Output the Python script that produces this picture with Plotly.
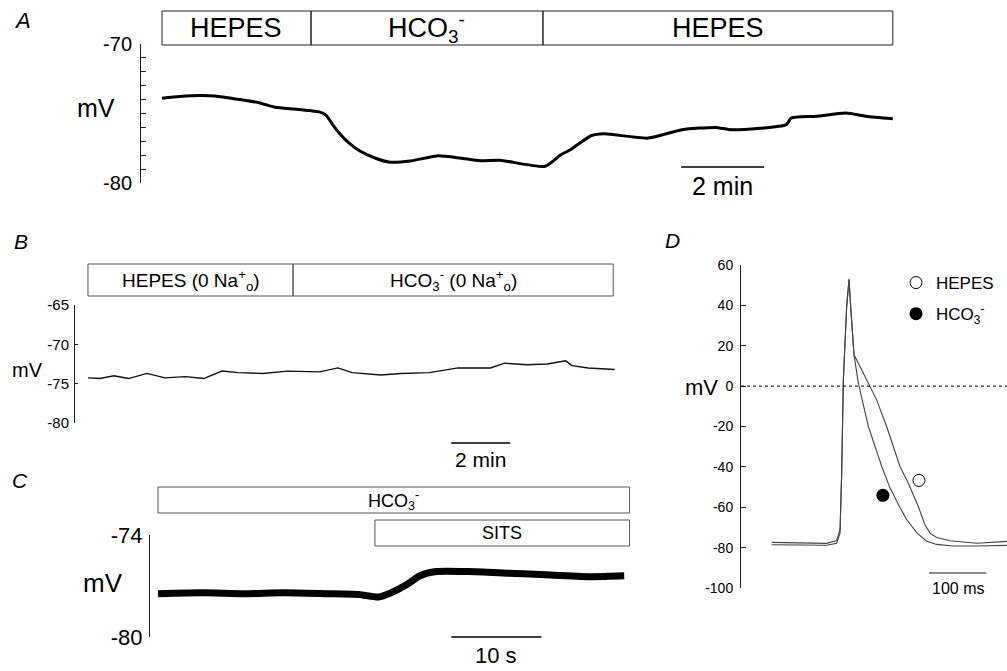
import plotly.graph_objects as go

W, H = 1007, 671
FONT = "Liberation Sans, Arial, Helvetica, sans-serif"


def px(x):
    return x / W


def py(y):
    return 1 - y / H


# ---------------- Panel A (time in min, membrane potential in mV) ----------------
a_t = [0, 0.43, 0.92, 1.28, 1.88, 2.36, 2.72, 3.2, 3.57, 3.81, 3.95, 4.12, 4.29, 4.53,
       4.77, 5.13, 5.49, 5.98, 6.63, 7.18, 7.66, 8.14, 9.23, 9.61, 9.83, 10.07, 10.34,
       10.65, 11.71, 12.53, 13.33, 13.74, 15.04, 15.16, 15.76, 16.48, 16.96, 17.61]
a_mv = [-73.9, -73.78, -73.71, -73.74, -74.0, -74.24, -74.55, -74.68, -74.79, -74.9,
        -75.11, -75.83, -76.47, -77.19, -77.7, -78.2, -78.5, -78.42, -78.05, -78.2,
        -78.4, -78.36, -78.8, -77.97, -77.63, -77.12, -76.6, -76.46, -76.77, -76.17,
        -76.0, -76.17, -75.8, -75.33, -75.2, -74.97, -75.2, -75.38]
a_edges = [0.0, 3.59, 9.18, 17.61]
a_labels = ["HEPES", "HCO<sub>3</sub><sup>-</sup>", "HEPES"]

# ---------------- Panel B ----------------
b_t = [0.0, 0.4, 0.88, 1.37, 2.0, 2.61, 3.3, 3.92, 4.54, 5.09, 5.92, 6.76, 7.85,
       8.47, 8.95, 9.92, 10.6, 11.57, 12.54, 13.64, 14.12, 14.88, 15.56, 16.19,
       16.4, 16.95, 17.85]
b_mv = [-74.26, -74.35, -74.0, -74.35, -73.7, -74.26, -74.1, -74.35, -73.4, -73.6,
        -73.7, -73.4, -73.5, -73.0, -73.6, -73.9, -73.7, -73.6, -73.0, -73.0, -72.4,
        -72.6, -72.5, -72.1, -72.7, -73.0, -73.2]
b_edges = [0.0, 6.95, 17.8]
b_labels = ["HEPES (0 Na<sup>+</sup><sub>o</sub>)",
            "HCO<sub>3</sub><sup>-</sup> (0 Na<sup>+</sup><sub>o</sub>)"]

# ---------------- Panel C (time in s) ----------------
c_t = [0, 5, 9.5, 14, 18.6, 22.3, 24.5, 25.9, 27.7, 29.1, 30.9, 34.5, 39, 43.6, 48.2, 51.8]
c_mv = [-77.45, -77.4, -77.45, -77.4, -77.45, -77.5, -77.65, -77.4, -76.9, -76.4,
        -76.15, -76.15, -76.25, -76.35, -76.45, -76.4]
c_hco3 = [0.0, 52.4]
c_sits = [24.1, 52.4]

# ---------------- Panel D (time in ms) ----------------
d_hepes_t = [0, 37.8, 95.9, 113.4, 119.2, 122.1, 125.0, 130.8, 134.9, 137.8, 143.6,
             154.1, 168.6, 183.1, 200.6, 223.8, 238.4, 255.8, 267.4, 276.2, 287.8,
             311.0, 357.6, 386.6, 410.5]
d_hepes_mv = [-77.4, -77.7, -77.9, -76.5, -71.1, -43.1, 3.1, 39.4, 52.9, 39.4, 15.5,
              9.7, 1.1, -6.8, -20.0, -39.8, -48.1, -59.6, -68.7, -72.8, -75.0, -76.6,
              -77.8, -77.4, -76.9]
d_hco3_t = [0, 37.8, 95.9, 113.4, 119.2, 122.1, 125.0, 130.8, 134.9, 137.8, 143.6,
            151.2, 168.6, 191.9, 206.4, 222.7, 235.5, 252.9, 270.3, 287.8, 316.9,
            357.6, 410.5]
d_hco3_mv = [-78.6, -78.8, -78.8, -77.8, -72.8, -43.1, 3.1, 39.4, 52.9, 39.4, 15.5,
             1.5, -19.9, -39.7, -50.4, -59.5, -66.1, -72.6, -76.8, -78.4, -79.2,
             -79.2, -78.9]
d_marker_hepes = (257, -46.7)
d_marker_hco3 = (194, -54.1)
d_ticks = [60, 40, 20, 0, -20, -40, -60, -80, -100]

fig = go.Figure()

fig.add_trace(go.Scatter(x=a_t, y=a_mv, mode="lines",
                         line=dict(color="black", width=3, shape="spline", smoothing=0.6),
                         xaxis="x", yaxis="y", showlegend=False, hoverinfo="skip"))
fig.add_trace(go.Scatter(x=b_t, y=b_mv, mode="lines", line=dict(color="#111", width=1.4),
                         xaxis="x2", yaxis="y2", showlegend=False, hoverinfo="skip"))
fig.add_trace(go.Scatter(x=c_t, y=c_mv, mode="lines",
                         line=dict(color="black", width=7, shape="spline", smoothing=0.6),
                         xaxis="x3", yaxis="y3", showlegend=False, hoverinfo="skip"))
fig.add_trace(go.Scatter(x=d_hepes_t, y=d_hepes_mv, mode="lines",
                         line=dict(color="#444", width=1.1),
                         xaxis="x4", yaxis="y4", showlegend=False, hoverinfo="skip"))
fig.add_trace(go.Scatter(x=d_hco3_t, y=d_hco3_mv, mode="lines",
                         line=dict(color="#444", width=1.1),
                         xaxis="x4", yaxis="y4", showlegend=False, hoverinfo="skip"))
fig.add_trace(go.Scatter(x=[d_marker_hepes[0]], y=[d_marker_hepes[1]], mode="markers",
                         marker=dict(symbol="circle-open", size=12, color="black",
                                     line=dict(width=1)),
                         name="HEPES", legendgroup="g1",
                         xaxis="x4", yaxis="y4", hoverinfo="skip"))
fig.add_trace(go.Scatter(x=[d_marker_hco3[0]], y=[d_marker_hco3[1]], mode="markers",
                         marker=dict(symbol="circle", size=13, color="black"),
                         name="HCO<sub>3</sub><sup>-</sup>", legendgroup="g2",
                         xaxis="x4", yaxis="y4", hoverinfo="skip"))

shapes = []
annotations = []


def box_row(xref, edges, y_top, y_bot, labels, color, size):
    for i, lab in enumerate(labels):
        shapes.append(dict(type="rect", xref=xref, yref="paper",
                           x0=edges[i], x1=edges[i + 1], y0=py(y_bot), y1=py(y_top),
                           line=dict(color=color, width=1), fillcolor="rgba(0,0,0,0)"))
        annotations.append(dict(xref=xref, yref="paper", x=(edges[i] + edges[i + 1]) / 2,
                                y=py((y_top + y_bot) / 2), text=lab, showarrow=False,
                                font=dict(size=size, color="black", family=FONT),
                                xanchor="center", yanchor="middle"))


box_row("x", a_edges, 11, 45, a_labels, "#222", 27)
box_row("x2", b_edges, 264, 296, b_labels, "#555", 19)
box_row("x3", c_hco3, 487, 513, ["HCO<sub>3</sub><sup>-</sup>"], "#555", 18)
box_row("x3", c_sits, 520, 546, ["SITS"], "#555", 18)


def scale_bar(xref, x0, length, ybar, ytext, label, size, color="black"):
    shapes.append(dict(type="line", xref=xref, yref="paper", x0=x0, x1=x0 + length,
                       y0=py(ybar), y1=py(ybar), line=dict(color=color, width=1.5)))
    annotations.append(dict(xref=xref, yref="paper", x=x0 + length / 2, y=py(ytext),
                            text=label, showarrow=False, xanchor="center", yanchor="middle",
                            font=dict(size=size, color="black", family=FONT)))


scale_bar("x", 12.51, 2, 167, 186, "2 min", 25)
scale_bar("x2", 12.31, 2, 443, 459, "2 min", 21)
scale_bar("x3", 32.6, 10, 637, 655, "10 s", 22)
scale_bar("x4", 274.5, 100, 573, 588, "100 ms", 16, color="#666")

# dashed zero line in D
shapes.append(dict(type="line", xref="x4", yref="y4", x0=-53.6, x1=410.6, y0=0, y1=0,
                   line=dict(color="black", width=1, dash="3px,3px")))


def label(x, y, text, size, italic=False):
    t = f"<i>{text}</i>" if italic else text
    annotations.append(dict(xref="paper", yref="paper", x=px(x), y=py(y), text=t,
                            showarrow=False, xanchor="center", yanchor="middle",
                            font=dict(size=size, color="black", family=FONT)))


label(22, 21, "A", 22, True)
label(21, 241, "B", 21, True)
label(20, 480, "C", 21, True)
label(672, 240, "D", 21, True)
label(96, 108, "mV", 25)
label(27, 370, "mV", 20)
label(103, 583, "mV", 26)
label(701, 387, "mV", 22)

axis_common = dict(showgrid=False, zeroline=False, showline=True, linecolor="#222",
                   linewidth=1, ticks="inside", tickcolor="#222", ticklen=5,
                   tickfont=dict(family=FONT, color="black"))
xhidden = dict(visible=False, showgrid=False, zeroline=False)

fig.update_layout(
    width=W, height=H, autosize=False,
    margin=dict(l=0, r=0, t=0, b=0, pad=0, autoexpand=False),
    paper_bgcolor="white", plot_bgcolor="white",
    font=dict(family=FONT, color="black"),
    shapes=shapes, annotations=annotations,
    xaxis=dict(domain=[px(141), px(900)], range=[-0.506, 17.783], anchor="y", **xhidden),
    yaxis=dict(domain=[py(183), py(44)], range=[-80, -70], anchor="x",
               tickvals=list(range(-80, -69)),
               ticktext=["-80"] + [""] * 9 + ["-70"],
               **{**axis_common, "tickfont": dict(family=FONT, color="black", size=20)},
               ticklabelstandoff=4),
    xaxis2=dict(domain=[px(75), px(620)], range=[-0.44, 18.03], anchor="y2", **xhidden),
    yaxis2=dict(domain=[py(423), py(305)], range=[-80, -65], anchor="x2",
                tickvals=[-80, -75, -70, -65], ticktext=["-80", "-75", "-70", "-65"],
                **{**axis_common, "ticklen": 3,
                   "tickfont": dict(family=FONT, color="black", size=15)},
                ticklabelstandoff=2),
    xaxis3=dict(domain=[px(150), px(635)], range=[-0.89, 53.0], anchor="y3", **xhidden),
    yaxis3=dict(domain=[py(637), py(535)], range=[-80, -74], anchor="x3",
                tickvals=[-80, -74], ticktext=["-80", "-74"],
                **{**axis_common, "ticklen": 3,
                   "tickfont": dict(family=FONT, color="black", size=22)},
                ticklabelstandoff=2),
    xaxis4=dict(domain=[px(741), px(1007)], range=[-53.6, 410.6], anchor="y4", **xhidden),
    yaxis4=dict(domain=[py(588), py(265)], range=[-100, 60], anchor="x4",
                tickvals=d_ticks, ticktext=[str(v) for v in d_ticks],
                **{**axis_common, "ticklen": 5,
                   "tickfont": dict(family=FONT, color="black", size=14)},
                ticklabelstandoff=4),
    legend=dict(x=px(896), y=py(265), xanchor="left", yanchor="top",
                bgcolor="rgba(0,0,0,0)", font=dict(size=17, family=FONT, color="black"),
                tracegroupgap=6, itemwidth=30),
    showlegend=True,
)

fig.write_html("out.html", config={"displayModeBar": False},
               post_script="document.body.style.margin='0';"
               "document.body.style.overflow='hidden';")
